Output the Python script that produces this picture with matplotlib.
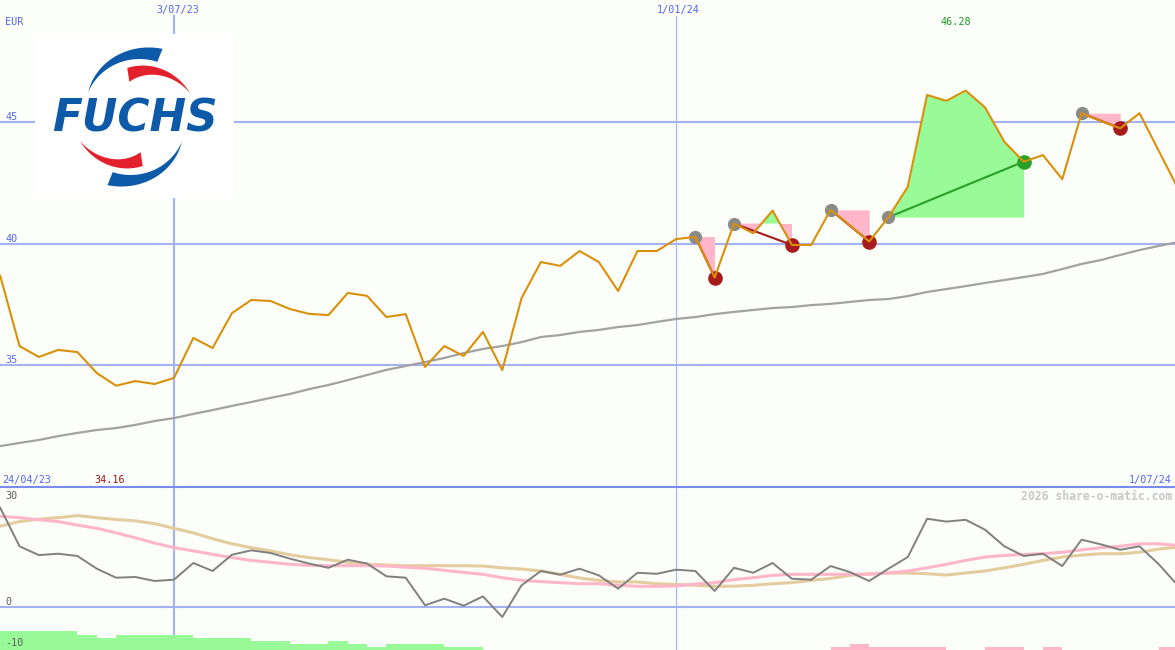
import numpy as np
import matplotlib
matplotlib.use('Agg')
import matplotlib.pyplot as plt
from matplotlib.patches import Polygon
from matplotlib.transforms import offset_copy

W, H = 1175, 650

# weekly data, week 0 = 3/07/23
weeks = np.arange(-9, 53)
price = [38.67, 35.79, 35.34, 35.63, 35.54, 34.68, 34.16, 34.35, 34.23, 34.48,
         36.12, 35.71, 37.14, 37.68, 37.64, 37.31, 37.11, 37.06, 37.97, 37.85,
         36.98, 37.10, 34.93, 35.79, 35.38, 36.37, 34.80, 37.76, 39.24, 39.08,
         39.69, 39.24, 38.05, 39.69, 39.69, 40.18, 40.27, 38.60, 40.82, 40.42,
         41.35, 39.94, 39.94, 41.38, 40.75, 40.08, 41.08, 42.33, 46.10, 45.86,
         46.28, 45.59, 44.18, 43.36, 43.63, 42.64, 45.35, 45.03, 44.73, 45.35,
         43.80, 42.25]
ma = [31.68, 31.81, 31.93, 32.09, 32.22, 32.34, 32.42, 32.55, 32.71, 32.83,
      33.00, 33.16, 33.33, 33.49, 33.66, 33.82, 34.02, 34.19, 34.39, 34.60,
      34.81, 34.97, 35.13, 35.30, 35.50, 35.67, 35.79, 35.95, 36.16, 36.24,
      36.37, 36.45, 36.57, 36.65, 36.78, 36.90, 36.98, 37.10, 37.19, 37.27,
      37.35, 37.39, 37.47, 37.52, 37.60, 37.68, 37.72, 37.84, 38.01, 38.13,
      38.25, 38.38, 38.50, 38.62, 38.75, 38.95, 39.16, 39.32, 39.53, 39.73,
      39.90, 40.06]
osc = [28.1, 17.2, 14.7, 15.1, 14.45, 10.85, 8.3, 8.5, 7.37, 7.74,
       12.46, 10.2, 14.8, 16.05, 15.3, 13.7, 12.3, 11.1, 13.4, 12.3,
       8.7, 8.3, 0.5, 2.35, 0.37, 3.0, -2.83, 6.15, 10.2, 9.15,
       10.85, 8.97, 5.2, 9.7, 9.4, 10.57, 10.2, 4.53, 11.1, 9.7,
       12.46, 8.0, 7.74, 11.6, 9.9, 7.37, 10.85, 14.16, 25.0, 24.2,
       24.7, 21.9, 17.2, 14.45, 15.1, 11.6, 19.07, 17.75, 16.2, 17.2,
       12.1, 6.0]
osc_pink = [25.7, 25.3, 24.7, 24.2, 23.2, 22.3, 21.0, 19.6, 18.1, 16.8,
            15.9, 14.9, 14.0, 13.2, 12.66, 12.1, 11.8, 11.7, 11.7, 11.7,
            11.6, 11.3, 10.95, 10.4, 9.8, 9.26, 8.3, 7.55, 7.2, 6.9,
            6.6, 6.6, 6.15, 5.86, 5.86, 5.95, 6.5, 6.9, 7.74, 8.3,
            8.97, 9.26, 9.26, 9.26, 9.26, 9.26, 9.63, 10.2, 11.1, 12.1,
            13.2, 14.16, 14.6, 14.9, 15.1, 15.5, 16.2, 16.8, 17.2, 17.9,
            17.9, 17.4]
osc_tan = [22.9, 24.2, 24.9, 25.3, 25.9, 25.3, 24.8, 24.4, 23.6, 22.3,
           21.0, 19.35, 17.9, 16.8, 15.9, 14.8, 14.0, 13.4, 12.66, 12.1,
           11.9, 11.7, 11.7, 11.7, 11.7, 11.6, 11.1, 10.75, 10.2, 9.26,
           8.2, 7.55, 7.1, 7.1, 6.6, 6.4, 6.15, 5.86, 5.9, 6.15,
           6.6, 6.9, 7.55, 8.1, 8.97, 9.43, 9.63, 9.63, 9.43, 9.06,
           9.63, 10.2, 11.1, 12.1, 13.2, 14.16, 14.7, 15.1, 15.1, 15.5,
           16.4, 17.0]
hist = [5.4, 5.4, 5.4, 5.4, 4.25, 3.4, 4.25, 4.25, 4.25, 4.25,
        3.4, 3.4, 3.4, 2.55, 2.55, 1.7, 1.7, 2.55, 1.7, 0.85,
        1.7, 1.7, 1.7, 0.85, 0.85, 0, 0, 0, 0, 0,
        0, 0, 0, 0, 0, 0, 0, 0, 0, 0,
        0, 0, 0, -0.85, -1.7, -0.85, -0.85, -0.85, -0.85, 0,
        0, -0.85, -0.85, 0, -0.85, 0, 0, 0, 0, 0,
        -0.85, 0]

sig_start = [27, 29, 34, 37, 47]
sig_end = [28, 32, 36, 44, 49]
price_ticks = [35, 40, 45]

bg = '#fcfefa'
gridc = '#a3b3f2'
labc = '#5566ee'
price = np.array(price)
hist = np.array(hist)

fig = plt.figure(figsize=(11.75, 6.5), dpi=100, facecolor=bg)
ax = fig.add_axes([0, 163 / H, 1, 487 / H])
ax2 = fig.add_axes([0, 0, 1, 163 / H], sharex=ax)
for a in (ax, ax2):
    a.set_facecolor(bg)
    a.set_xticks([])
    a.set_yticks([])
    for s in a.spines.values():
        s.set_visible(False)
ax2.spines['top'].set_visible(True)
ax2.spines['top'].set_color('#7b8bf0')
ax2.spines['top'].set_linewidth(1.5)
ax2.spines['top'].set_zorder(10)

x0 = -174 / 19.31
ax.set_xlim(x0, x0 + W / 19.31)
ax.set_ylim(50 - 487 / 24.35, 50)
ax2.set_ylim(-43 / 3.53, 120 / 3.53)

# grid
for v in price_ticks:
    ax.axhline(v, color=gridc, lw=1.5, zorder=0.5)
ax.axvline(0, ymax=1 - 16 / 487, color=gridc, lw=1.5, zorder=0.5)
ax.axvline(26, ymax=1 - 16 / 487, color=gridc, lw=0.8, zorder=0.5)
ax2.axhline(0, color=gridc, lw=1.5, zorder=0.5)
ax2.axvline(0, color=gridc, lw=1.5, zorder=0.5)
ax2.axvline(26, color=gridc, lw=0.8, zorder=0.5)

# price panel
ax.plot(weeks, ma, color='#a2a2a2', lw=1.6, zorder=1)
for s, e in zip(sig_start, sig_end):
    i, j = s + 9, e + 9
    xs = weeks[i:j + 1]
    ps = price[i:j + 1]
    entry, exit_ = price[i], price[j]
    ax.fill_between(xs, entry, ps, where=ps >= entry, interpolate=True,
                    color='#98fb98', lw=0, zorder=2)
    ax.fill_between(xs, entry, ps, where=ps < entry, interpolate=True,
                    color='#ffb6c8', lw=0, zorder=2)
    col = '#28a028' if exit_ > entry else '#a61c1c'
    ax.plot([s, e], [entry, exit_], color=col, lw=1.5, zorder=3)
    ax.plot(s, entry, 'o', ms=8.5, color='#8a8a8a', zorder=3.5)
    ax.plot(e, exit_, 'o', ms=9.5, color=col, zorder=3.5)
ax.plot(weeks, price, color='#d9900a', lw=1.5, zorder=4)

# indicator panel
ax2.plot(weeks, osc_tan, color='#e4cc9e', lw=2.2, zorder=2)
ax2.plot(weeks, osc_pink, color='#ffb6c8', lw=2.2, zorder=2.1)
ax2.plot(weeks, osc, color='#808080', lw=1.4, zorder=2.5)
ybot = ax2.get_ylim()[0]
ax2.bar(weeks, np.abs(hist), width=1.0, bottom=ybot, align='edge', lw=0,
        color=['#98fb98' if h > 0 else '#ffb6c8' for h in hist], zorder=3)

# labels
def ptext(x, yb, s, **kw):
    kw.setdefault('color', labc)
    kw.setdefault('size', 7.3)
    kw.setdefault('family', 'DejaVu Sans Mono')
    fig.text(x / W, 1 - yb / H, s, va='baseline', **kw)

ptext(5, 25, 'EUR')
ptext(177.5, 13.3, '3/07/23', ha='center')
ptext(678, 13.3, '1/01/24', ha='center')
ptext(956, 25, '46.28', ha='center', color='#229a22')
ptext(2, 483.3, '24/04/23')
ptext(110, 483.3, '34.16', ha='center', color='#a01818')
ptext(1172, 483.3, '1/07/24', ha='right')
ptext(1172, 500, '2026 share-o-matic.com', ha='right', color='#c8c8c8',
      size=8.3, weight='bold')
tr = offset_copy(ax.get_yaxis_transform(), fig=fig, y=2, units='dots')
for v in price_ticks:
    ax.text(5 / W, v, str(v), transform=tr, va='baseline', color=labc,
            size=7.3, family='DejaVu Sans Mono')
ptext(5, 499.3, '30', color='#606060')
ptext(5, 605.3, '0', color='#606060')
ptext(5, 646.3, '-10', color='#606060')

# logo
lax = fig.add_axes([35 / W, 1 - 198 / H, 199 / W, 164 / H])
lax.set_facecolor('white')
lax.set_xlim(0, 199)
lax.set_ylim(0, 164)
lax.set_xticks([])
lax.set_yticks([])
for s in lax.spines.values():
    s.set_visible(False)

def crescent(th_a, th_b, r_a, r_b, t_a, t_b, color, cx=100, cy=81, n=80):
    th = np.radians(np.linspace(th_a, th_b, n))
    r = np.linspace(r_a, r_b, n)
    t = np.linspace(t_a, t_b, n)
    outer = np.c_[cx + r * np.cos(th), cy + r * np.sin(th)]
    inner = np.c_[cx + (r - t) * np.cos(th), cy + (r - t) * np.sin(th)][::-1]
    lax.add_patch(Polygon(np.vstack([outer, inner]), closed=True,
                          color=color, lw=0))

blue, red = '#0d5aa8', '#e3202b'
crescent(152, 68, 53, 73.5, 0, 14, blue)
crescent(332, 248, 53, 73.5, 0, 14, blue)
crescent(99, 23.6, 49.6, 60, 14, 0, red)
crescent(279, 203.6, 49.6, 60, 14, 0, red)
lax.text(100, 66, 'FUCHS', ha='center', va='baseline', color=blue,
         size=31.5, weight='bold', style='oblique', family='DejaVu Sans')

fig.savefig('out.png', dpi=100, facecolor=bg)
